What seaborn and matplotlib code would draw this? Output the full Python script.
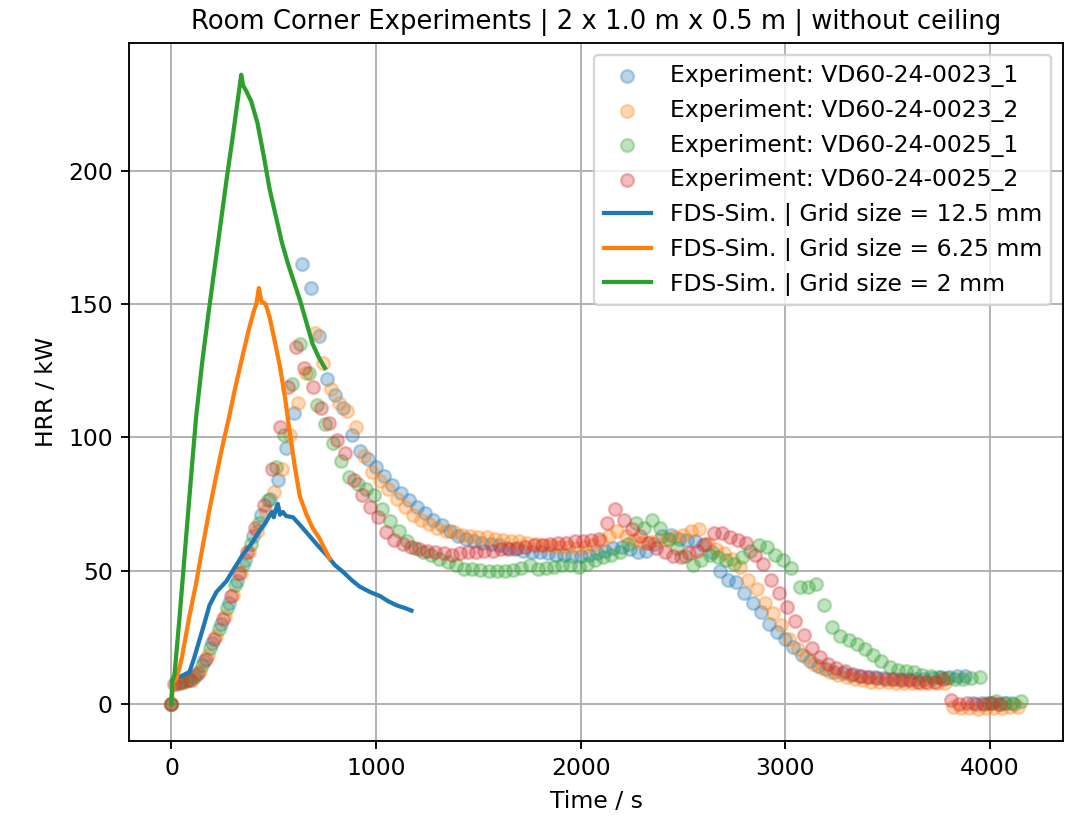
import numpy as np
import pandas as pd
import matplotlib
matplotlib.use("Agg")
import matplotlib.pyplot as plt
import seaborn as sns

nan = np.nan

# ---------------- experimental data ----------------
t_0023_1 = [0, 40, 80, 120, 160, 200, 240, 280, 320, 360, 400, 440, 480, 520, 560, 600,
            640, 680, 720, 760, 800, 840, 880, 920, 960, 1000, 1040, 1080, 1120, 1160,
            1200, 1240, 1280, 1320, 1360, 1400, 1440, 1480, 1520, 1560, 1600, 1640, 1680,
            1720, 1760, 1800, 1840, 1880, 1920, 1960, 2000, 2040, 2080, 2120, 2160, 2200,
            2240, 2280, 2320, 2360, 2400, 2440, 2480, 2520, 2560, 2600, 2640, 2680, 2720,
            2760, 2800, 2840, 2880, 2920, 2960, 3000, 3040, 3080, 3120, 3160, 3200, 3240,
            3280, 3320, 3360, 3400, 3440, 3480, 3520, 3560, 3600, 3640, 3680, 3720, 3760,
            3800, 3840, 3880, 3920, 3960, 4000, 4040, 4080, 4120]
hrr_0023_1 = [0, 8, 8.8, 11, 16, 23, 30, 38, 46, 54, 63, 71, 77, 84, 96, 109,
              165, 156, 138, 122, 116, 111, 101, 95, 92, 89, 85.5, 82, 79, 76.5,
              74, 71.5, 69, 67, 65, 63, 62, 61, 60.5, 60, 59.5, 58.5, 58,
              57.5, 57, 57, 56.5, 56, 56, 55.5, 55.5, 56, 56.5, 57.5, 58.5, 59,
              58, 57, 57.5, 60, 63, 63.5, 62, 61.5, 61, 59.5, 57, 50, 46.5,
              45.7, 41.5, 38, 34.5, 30, 27, 24.5, 21.3, 18.5, 16, 14.3, 13, 12,
              11.5, 11, 10.5, 10, 10, 9.8, 9.5, 9.5, 9.3, 9.3, 9.5, 9.8, 10,
              10, 10.5, 10.5, 0.5, 0.3, 0.5, 0, 0.3, 0]

t_0023_2 = [0, 20, 60, 100, 140, 180, 220, 260, 300, 340, 380, 420, 460, 500, 540, 580,
            620, 660, 700, 740, 780, 820, 860, 900, 940, 980, 1020, 1060, 1100, 1140,
            1180, 1220, 1260, 1300, 1340, 1380, 1420, 1460, 1500, 1540, 1580, 1620, 1660,
            1700, 1740, 1780, 1820, 1860, 1900, 1940, 1980, 2020, 2060, 2100, 2140, 2180,
            2220, 2260, 2300, 2340, 2380, 2420, 2460, 2500, 2540, 2580, 2620, 2660, 2700,
            2740, 2780, 2820, 2860, 2900, 2940, 2980, 3020, 3060, 3100, 3140, 3180, 3220,
            3260, 3300, 3340, 3380, 3420, 3460, 3500, 3540, 3580, 3620, 3660, 3700, 3740,
            3780, 3820, 3860, 3900, 3940, 3980, 4020, 4060, 4100, 4140]
hrr_0023_2 = [0, 7.5, 8.3, 9, 12.5, 18.5, 25.5, 33, 41, 49, 57, 65, 72.5, 79.5, 88, 101,
              113, 124, 139, 128, 118, 113, 110, 104, 93, 87, 83.5, 80.5, 77, 74,
              71, 69, 67.5, 66, 65, 64.5, 63.5, 63, 62.8, 62.5, 62, 61.5, 61,
              61, 60.5, 60, 59.8, 59.3, 59, 58.8, 58.5, 58.8, 59.5, 61, 63, 65,
              63, 61.5, 60.5, 60.8, 61.5, 62, 62.8, 63.5, 65, 65.5, 60, 58, 56.5,
              54.5, 51.4, 46.5, 43, 38, 34, 29.5, 24.5, 20.5, 17.5, 15, 13.3, 12,
              11, 10.2, 9.2, 8.8, 8.4, 8.2, 8.1, 8, 8, 8, 8, 8, 8,
              8, -1, -1.5, -1.5, -2, -1.5, -1.5, -1.5, -1, -1]

t_0025_1 = [0, 30, 70, 110, 150, 190, 230, 270, 310, 350, 390, 430, 470, 510, 550, 590,
            630, 670, 710, 750, 790, 830, 870, 910, 950, 990, 1030, 1070, 1110, 1150,
            1190, 1230, 1270, 1310, 1350, 1390, 1430, 1470, 1510, 1550, 1590, 1630, 1670,
            1710, 1750, 1790, 1830, 1870, 1910, 1950, 1990, 2030, 2070, 2110, 2150, 2190,
            2230, 2270, 2310, 2350, 2390, 2430, 2470, 2510, 2550, 2590, 2630, 2670, 2710,
            2750, 2790, 2830, 2870, 2910, 2950, 2990, 3030, 3070, 3110, 3150, 3190, 3230,
            3270, 3310, 3350, 3390, 3430, 3470, 3510, 3550, 3590, 3630, 3670, 3710, 3750,
            3790, 3830, 3870, 3910, 3950, 3990, 4030, 4070, 4110, 4150]
hrr_0025_1 = [0, 8, 8.5, 10, 14.5, 21, 28, 36, 44.5, 52, 60, 68, 76.5, 89, 101, 120,
              135, 124, 112, 105, 98, 91, 85, 82.5, 80.5, 78.5, 73, 68.5, 65, 61,
              58.5, 57, 56, 54.5, 53.3, 52, 50.7, 50.5, 50.3, 50, 50, 50, 50.3,
              51, 52, 50.7, 51, 51.5, 52, 52, 51.5, 52.5, 54, 55, 56, 57,
              60, 68, 66, 69, 66, 62, 58.5, 55.5, 52, 54, 56, 55, 54,
              52.6, 55, 57.5, 59.5, 59, 56, 54, 51, 44, 44, 45, 37, 29,
              25.5, 24, 22.5, 20.5, 18.3, 16, 14, 12.8, 12.3, 11.8, 11, 10.6, 10,
              9.8, 9.5, 9.4, 9.8, 10, 0.5, 1, 0.5, 0.5, 1]

t_0025_2 = [0, 10, 50, 90, 130, 170, 210, 250, 290, 330, 370, 410, 450, 490, 530, 570,
            610, 650, 690, 730, 770, 810, 850, 890, 930, 970, 1010, 1050, 1090, 1130,
            1170, 1210, 1250, 1290, 1330, 1370, 1410, 1450, 1490, 1530, 1570, 1610, 1650,
            1690, 1730, 1770, 1810, 1850, 1890, 1930, 1970, 2010, 2050, 2090, 2130, 2170,
            2210, 2250, 2290, 2330, 2370, 2410, 2450, 2490, 2530, 2570, 2610, 2650, 2690,
            2730, 2770, 2810, 2850, 2890, 2930, 2970, 3010, 3050, 3090, 3130, 3170, 3210,
            3250, 3290, 3330, 3370, 3410, 3450, 3490, 3530, 3570, 3610, 3650, 3690, 3730,
            3770, 3810, 3850, 3890, 3930, 3970, 4010, 4050]
hrr_0025_2 = [0, 7.5, 8.2, 9, 11.5, 17, 24.5, 32, 40.5, 49, 57, 66, 74.5, 88, 104, 119,
              134, 126, 119, 111, 105.5, 99, 94, 84, 78.5, 74, 70, 64.5, 61.5, 60,
              59, 58.3, 57.5, 57, 56.5, 56, 56.5, 57, 57, 57.5, 57.5, 58, 58.3,
              58.5, 59, 59.5, 59.5, 60, 60.3, 60.5, 61, 61, 61.4, 62, 68, 73,
              69, 65.5, 63, 60.5, 58.5, 57, 55.5, 55, 56.5, 57.5, 60, 64, 64,
              62.5, 61.5, 60.5, 56, 52.5, 46.5, 41.5, 36.3, 31, 26, 21, 17.5, 14.8,
              13.3, 12.2, 11.4, 10.6, 10, 9.7, 9.5, 9.3, 9, 8.8, 8.4, 8.2, 8.4,
              9.2, 1.3, 0, 0.3, 0, 0, 0.5, 0]

exp_labels = ["Experiment: VD60-24-0023_1", "Experiment: VD60-24-0023_2",
              "Experiment: VD60-24-0025_1", "Experiment: VD60-24-0025_2"]

# ---------------- simulation data ----------------
t_sim_125 = [0, 5, 15, 50, 88, 110, 137, 160, 186, 220, 268, 300, 349, 390, 431, 460,
             490, 500, 510, 520, 530, 545, 560, 594, 630, 675, 720, 757, 800, 839, 880,
             920, 970, 1018, 1060, 1100, 1140, 1173]
hrr_sim_125 = [0, 9, 9.5, 10.5, 12, 17, 24, 30, 37, 42, 46, 50, 56, 60, 65, 68,
               72, 70, 73, 75, 71, 72, 70.5, 70, 67, 63, 59, 56, 52, 49.5, 46.5,
               44, 42, 40.5, 38.5, 37, 36, 35]

t_sim_625 = [0, 8, 25, 50, 88, 120, 150, 186, 220, 250, 280, 310, 349, 380, 405, 415,
             427, 440, 460, 480, 505, 529, 555, 578, 603, 627, 660, 690, 724, 750, 773]
hrr_sim_625 = [0, 8, 9.5, 17, 33, 45, 58, 73, 86, 97, 107, 118, 131, 141, 148, 150,
               156, 151, 150, 145, 136, 127, 115, 102, 89, 78, 71, 66, 62, 58, 54.5]

t_sim_2 = [0, 5, 15, 40, 70, 100, 121, 150, 180, 210, 240, 270, 300, 341, 350, 365,
           390, 420, 450, 480, 510, 540, 570, 600, 630, 660, 690, 720, 750]
hrr_sim_2 = [0, 9, 11, 33, 61, 89, 108, 128, 146, 163, 180, 197, 213, 236, 232, 230,
             226, 218, 206, 193, 183, 173, 165, 158, 151, 143, 135, 130, 126]

sim_labels = ["FDS-Sim. | Grid size = 12.5 mm", "FDS-Sim. | Grid size = 6.25 mm",
              "FDS-Sim. | Grid size = 2 mm"]

colors = ["#1f77b4", "#ff7f0e", "#2ca02c", "#d62728"]

# ---------------- plot ----------------
plt.rcParams['font.family'] = ['DejaVu Sans']
DPI = 169
fig = plt.figure(figsize=(1071 / DPI, 822 / DPI), dpi=DPI)
ax = fig.add_axes([129 / 1071, 81 / 822, 934 / 1071, 698 / 822])

exp_t = [t_0023_1, t_0023_2, t_0025_1, t_0025_2]
exp_v = [hrr_0023_1, hrr_0023_2, hrr_0025_1, hrr_0025_2]
for tt, vals, lab, c in zip(exp_t, exp_v, exp_labels, colors):
    df = pd.DataFrame({"t": tt, "hrr": vals}).dropna()
    sns.scatterplot(data=df, x="t", y="hrr", ax=ax, color=c, alpha=0.3, s=30,
                    edgecolor=c, linewidth=1.0, label=lab, zorder=2)

for tt, vv, lab, c in zip([t_sim_125, t_sim_625, t_sim_2],
                          [hrr_sim_125, hrr_sim_625, hrr_sim_2], sim_labels, colors[:3]):
    df = pd.DataFrame({"t": tt, "hrr": vv})
    sns.lineplot(data=df, x="t", y="hrr", ax=ax, color=c, linewidth=1.8,
                 estimator=None, sort=False, label=lab, zorder=3)

ax.grid(True, color="#b0b0b0", linewidth=0.8)
ax.set_axisbelow(True)
ax.set_xticks([0, 1000, 2000, 3000, 4000])
ax.set_yticks([0, 50, 100, 150, 200])
ax.set_xlabel("Time / s")
ax.set_ylabel("HRR / kW")
ax.set_title("Room Corner Experiments | 2 x 1.0 m x 0.5 m | without ceiling", fontsize=11)
ax.legend(loc="upper right")

fig.savefig("out.png", dpi=DPI)
